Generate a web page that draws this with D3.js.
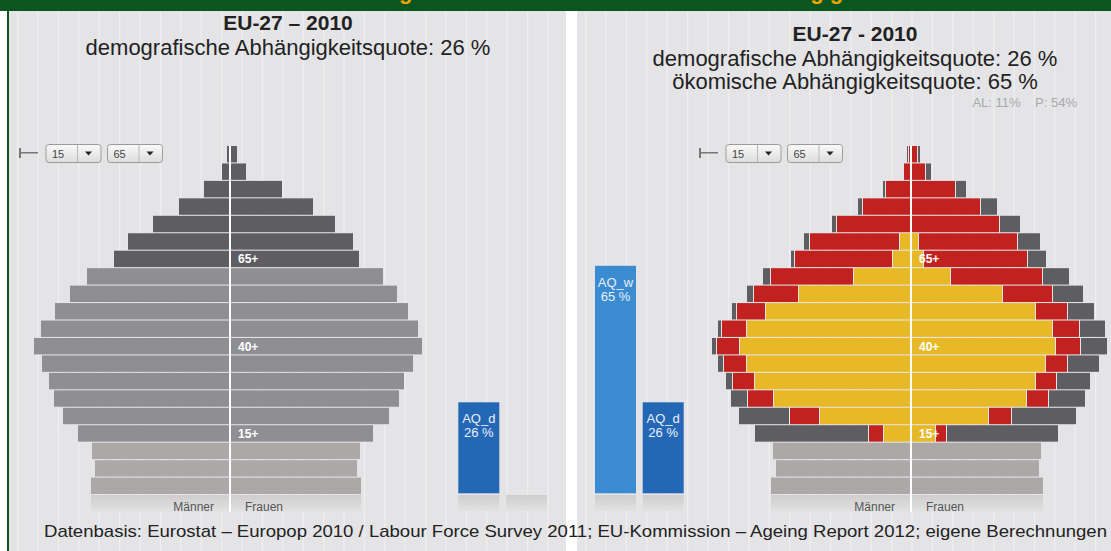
<!DOCTYPE html>
<html>
<head>
<meta charset="utf-8">
<script src="https://cdn.jsdelivr.net/npm/d3@7"></script>
<style>
body { margin: 0; background: #fff; }
svg { display: block; }
text { font-family: "Liberation Sans", Arial, Helvetica, sans-serif; }
</style>
</head>
<body>
<script>
var width = 1111, height = 551;

// Altersgruppen (von unten nach oben)
var ages = ["0-4","5-9","10-14","15-19","20-24","25-29","30-34","35-39","40-44","45-49",
            "50-54","55-59","60-64","65-69","70-74","75-79","80-84","85-89","90-94","95+"];
var age_labels = {"15-19": "15+", "40-44": "40+", "65-69": "65+"};

// linke Pyramide: Bevoelkerung 2010 (Mio.)
var men_total   = [13.9,13.5,13.8,15.2,16.7,17.6,18.1,18.8,19.6,18.9,17.5,16.0,14.3,11.6,10.2,7.7,5.1,2.6,0.8,0.3];
var women_total = [13.1,12.7,13.0,14.3,15.9,16.9,17.4,18.3,19.2,18.8,17.8,16.7,15.3,12.9,12.3,10.5,8.3,5.2,1.6,0.7];

// rechte Pyramide: Kinder 0-14
var men_kids   = [14.0,13.5,13.8];
var women_kids = [13.2,12.8,13.0];
// rechte Pyramide ab 15: erwerbstaetig / nicht erwerbstaetig / sonstige
var men_ew      = [2.7,9.1,13.7,15.6,16.4,17.1,16.4,14.5,11.2,5.7,1.8,1.1,0,0,0,0,0];
var men_nicht   = [1.5,3.0,2.6,2.2,2.3,2.3,2.5,2.9,4.5,8.3,9.8,9.0,7.4,4.8,2.5,0.7,0.2];
var men_sonst   = [11.4,5.1,1.7,0.7,0.6,0.5,0.4,0.5,0.7,0.8,0.4,0.6,0.5,0.5,0.3,0.1,0.2];
var women_ew    = [2.4,7.7,11.5,12.4,13.4,14.4,14.1,12.4,9.1,3.9,1.2,0.7,0,0,0,0,0];
var women_nicht = [1.1,2.3,2.2,2.1,2.2,2.5,2.7,3.2,5.0,9.2,10.4,9.9,8.8,6.9,4.4,1.4,0.6];
var women_sonst = [11.2,6.5,3.7,3.4,3.2,2.7,2.6,2.7,3.1,2.7,1.9,2.3,2.1,1.7,1.1,0.6,0.3];

// Abhaengigkeitsquoten (%)
var left_slots  = ["AQ_d", "AQ_w"];
var left_aq     = [26, null];
var right_slots = ["AQ_w", "AQ_d"];
var right_aq    = [65, 26];

var col = {
    kids: "#aca8a8", work: "#8f8f93", old: "#5e5e62",
    ew: "#e8b927", nicht: "#c1221f", sonst: "#5e5e62",
    AQ_d: "#2468b5", AQ_w: "#3b8bd1"
};

var svg = d3.select("body").append("svg")
    .attr("width", width)
    .attr("height", height);

var defs = svg.append("defs");
var refl = defs.append("linearGradient").attr("id", "refl").attr("x1", 0).attr("y1", 0).attr("x2", 0).attr("y2", 1);
refl.append("stop").attr("offset", "0%").attr("stop-color", "#cfcdcd");
refl.append("stop").attr("offset", "100%").attr("stop-color", "#e2e2e3");
var btn = defs.append("linearGradient").attr("id", "btn").attr("x1", 0).attr("y1", 0).attr("x2", 0).attr("y2", 1);
btn.append("stop").attr("offset", "0%").attr("stop-color", "#fafafa");
btn.append("stop").attr("offset", "100%").attr("stop-color", "#dcdcdc");

// Hintergrund
svg.append("rect").attr("width", width).attr("height", height).style("fill", "#ffffff");
var panels = [{x0: 9, x1: 566}, {x0: 577, x1: 1111}];
panels.forEach(function(p) {
    svg.append("rect")
        .attr("x", p.x0).attr("y", 11)
        .attr("width", p.x1 - p.x0).attr("height", height - 11)
        .style("fill", "#e4e4e6");
    svg.selectAll(null).data(d3.range(p.x0 + 8, p.x1, 20.4)).enter().append("rect")
        .attr("x", function(d) { return d; })
        .attr("y", 11)
        .attr("width", 1.3)
        .attr("height", height - 11)
        .style("fill", "#eeeeef");
});
svg.append("rect").attr("x", 0).attr("y", 0).attr("width", width).attr("height", 11).style("fill", "#0b561f");
svg.append("rect").attr("x", 7).attr("y", 0).attr("width", 2).attr("height", height).style("fill", "#0b561f");

// abgeschnittene Ueberschrift im gruenen Balken
svg.append("text").attr("x", 338).attr("y", -1.5)
    .attr("font-size", "22px").attr("font-weight", "bold").style("fill", "#f3a600")
    .text("Demografische Sicht");
svg.append("text").attr("x", 591).attr("y", -1.5)
    .attr("font-size", "22px").attr("font-weight", "bold").style("fill", "#f3a600")
    .text("Ökonomische Abhängigkeit");

// Titel
function drawTitles(cx, lines) {
    lines.forEach(function(l) {
        svg.append("text")
            .attr("x", cx).attr("y", l.y)
            .attr("text-anchor", l.anchor || "middle")
            .attr("font-size", l.size)
            .attr("font-weight", l.bold ? "bold" : "normal")
            .style("fill", l.color || "#222")
            .text(l.t);
    });
}
drawTitles(288, [
    {t: "EU-27 – 2010", y: 30, size: "21px", bold: true},
    {t: "demografische Abhängigkeitsquote: 26 %", y: 55, size: "22px"}
]);
drawTitles(855, [
    {t: "EU-27 - 2010", y: 41, size: "21px", bold: true},
    {t: "demografische Abhängigkeitsquote: 26 %", y: 66, size: "22px"},
    {t: "ökomische Abhängigkeitsquote: 65 %", y: 89, size: "22px"}
]);
svg.append("text").attr("x", 1077).attr("y", 107).attr("text-anchor", "end")
    .attr("font-size", "13px").style("fill", "#a9a9ab")
    .attr("xml:space", "preserve")
    .text("AL: 11%    P: 54%");

// Auswahlfelder
function drawControls(x0) {
    var g = svg.append("g").attr("transform", "translate(" + x0 + ",144)");
    g.append("rect").attr("x", 1).attr("y", 4).attr("width", 2).attr("height", 10).style("fill", "#777");
    g.append("rect").attr("x", 3).attr("y", 8).attr("width", 17).attr("height", 1.5).style("fill", "#777");
    [{x: 28, t: "15"}, {x: 89.5, t: "65"}].forEach(function(b) {
        g.append("rect").attr("x", b.x).attr("y", 0.5).attr("width", 55).attr("height", 18)
            .attr("rx", 3).style("fill", "url(#btn)").style("stroke", "#9b9b9b");
        g.append("line").attr("x1", b.x + 31.5).attr("x2", b.x + 31.5).attr("y1", 1).attr("y2", 18)
            .style("stroke", "#b8b8b8");
        g.append("text").attr("x", b.x + 6).attr("y", 14).attr("font-size", "11px")
            .style("fill", "#444").text(b.t);
        g.append("path")
            .attr("d", "M" + (b.x + 39) + ",7.5 l7,0 l-3.5,4 z")
            .style("fill", "#222");
    });
}
drawControls(18);
drawControls(698);

// Pyramiden
var yAge = d3.scaleBand().domain(ages.slice().reverse()).range([146, 494]).paddingInner(0.06);
var xVal = d3.scaleLinear().domain([0, 20]).range([0, 200]);

function leftRows() {
    return ages.map(function(a, i) {
        var c = i < 3 ? col.kids : (i < 13 ? col.work : col.old);
        return {age: a, men: [{v: men_total[i], c: c}], women: [{v: women_total[i], c: c}]};
    });
}
function rightRows() {
    return ages.map(function(a, i) {
        if (i < 3) {
            return {age: a, men: [{v: men_kids[i], c: col.kids}], women: [{v: women_kids[i], c: col.kids}]};
        }
        var j = i - 3;
        return {
            age: a,
            men: [{v: men_ew[j], c: col.ew}, {v: men_nicht[j], c: col.nicht}, {v: men_sonst[j], c: col.sonst}],
            women: [{v: women_ew[j], c: col.ew}, {v: women_nicht[j], c: col.nicht}, {v: women_sonst[j], c: col.sonst}]
        };
    });
}

function drawPyramid(cx, rows) {
    var g = svg.append("g");
    var bottom = rows[0];
    var bm = d3.sum(bottom.men, function(s) { return s.v; });
    var bw = d3.sum(bottom.women, function(s) { return s.v; });
    // Spiegelung unter der Pyramide
    g.append("rect")
        .attr("x", cx - xVal(bm))
        .attr("y", 495)
        .attr("width", xVal(bm) + xVal(bw))
        .attr("height", 17)
        .style("fill", "url(#refl)");

    rows.forEach(function(r) {
        ["men", "women"].forEach(function(side) {
            var cum = 0;
            r[side].forEach(function(s, k) {
                var a = xVal(cum) + (k > 0 ? 1 : 0);
                var b = xVal(cum + s.v);
                cum += s.v;
                if (b - a <= 0.2) return;
                g.append("rect")
                    .attr("x", side == "men" ? cx - b : cx + a)
                    .attr("y", yAge(r.age))
                    .attr("width", b - a)
                    .attr("height", yAge.bandwidth())
                    .style("fill", s.c);
            });
        });
        if (age_labels[r.age]) {
            g.append("text")
                .attr("x", cx + 8)
                .attr("y", yAge(r.age) + yAge.bandwidth() / 2 + 4.5)
                .attr("font-size", "12px")
                .attr("font-weight", "bold")
                .style("fill", "#ffffff")
                .text(age_labels[r.age]);
        }
    });
    g.append("rect").attr("x", cx - 1).attr("y", 146).attr("width", 2).attr("height", 366).style("fill", "#ffffff");
    g.append("text").attr("x", cx - 16).attr("y", 511).attr("text-anchor", "end")
        .attr("font-size", "12px").style("fill", "#555").text("Männer");
    g.append("text").attr("x", cx + 15).attr("y", 511)
        .attr("font-size", "12px").style("fill", "#555").text("Frauen");
}
drawPyramid(230, leftRows());
drawPyramid(911, rightRows());

// Abhaengigkeitsquoten als Saeulen
var yAq = d3.scaleLinear().domain([0, 100]).range([493.3, 143.3]);

function drawAq(slots, values, x0, x1) {
    var x = d3.scaleBand().domain(slots).range([x0, x1]).paddingInner(0.14);
    var g = svg.append("g");
    slots.forEach(function(s, i) {
        g.append("rect")
            .attr("x", x(s)).attr("y", 495)
            .attr("width", x.bandwidth()).attr("height", 16)
            .style("fill", "url(#refl)");
        var v = values[i];
        if (v == null) return;
        g.append("rect")
            .attr("x", x(s)).attr("y", yAq(v))
            .attr("width", x.bandwidth()).attr("height", yAq(0) - yAq(v))
            .style("fill", col[s]);
        g.append("text")
            .attr("x", x(s) + x.bandwidth() / 2).attr("y", yAq(v) + 21)
            .attr("text-anchor", "middle").attr("font-size", "13px")
            .style("fill", "#e8f0fa").text(s);
        g.append("text")
            .attr("x", x(s) + x.bandwidth() / 2).attr("y", yAq(v) + 35)
            .attr("text-anchor", "middle").attr("font-size", "13px")
            .style("fill", "#e8f0fa").text(v + " %");
    });
}
drawAq(left_slots, left_aq, 458.3, 547);
drawAq(right_slots, right_aq, 595, 683.7);

// Quelle
svg.append("text")
    .attr("x", 44).attr("y", 537)
    .attr("font-size", "17px")
    .attr("textLength", 1063)
    .attr("lengthAdjust", "spacingAndGlyphs")
    .style("fill", "#222")
    .text("Datenbasis: Eurostat – Europop 2010 / Labour Force Survey 2011; EU-Kommission – Ageing Report 2012; eigene Berechnungen");
</script>
</body>
</html>
